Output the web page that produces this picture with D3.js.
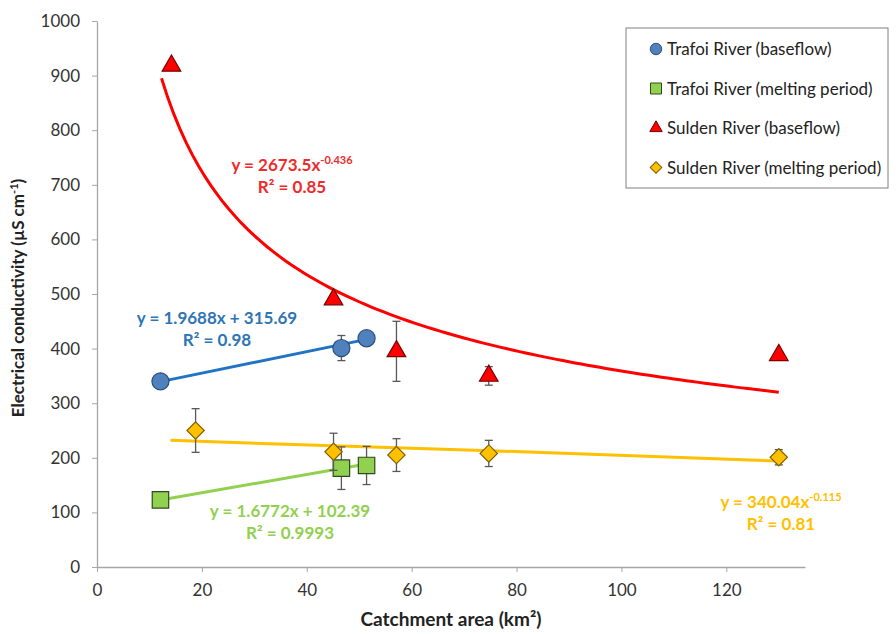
<!DOCTYPE html>
<html>
<head>
<meta charset="utf-8">
<script src="https://cdn.jsdelivr.net/npm/d3@7"></script>
<style>
  body { margin: 0; background: #fff; }
  text { font-family: Lato, "Open Sans", sans-serif; }
</style>
</head>
<body>
<svg width="896" height="634"></svg>
<script>
// EC vs catchment area, Trafoi and Sulden rivers
// values

var xTicks = [0, 20, 40, 60, 80, 100, 120];
var yTicks = [0, 100, 200, 300, 400, 500, 600, 700, 800, 900, 1000];

var trafoiBaseArea = [12.1, 46.6, 51.4];
var trafoiBaseEC = [340, 401, 419];
var trafoiBaseErr = [0, 23, 0];

var trafoiMeltArea = [12.1, 46.6, 51.4];
var trafoiMeltEC = [123, 181, 186];
var trafoiMeltErr = [0, 39, 35];

var suldenBaseArea = [14.2, 45.1, 57.1, 74.7, 130];
var suldenBaseEC = [918, 490, 395, 350, 388];
var suldenBaseErr = [0, 0, 55, 17, 0];

var suldenMeltArea = [18.8, 45.1, 57.1, 74.7, 130];
var suldenMeltEC = [250, 211, 205, 208, 201];
var suldenMeltErr = [40, 34, 30, 24, 14];

// trendlines as printed on the chart: [slope/coef, intercept/exponent, xmin, xmax]
var trafoiBaseFit = [1.9688, 315.69, 12.1, 51.4];
var trafoiMeltFit = [1.6772, 102.39, 12.1, 51.4];
var suldenBaseFit = [2673.5, -0.436, 12.3, 130];
// yellow line as drawn
var suldenMeltLineX = [14, 45, 75, 130];
var suldenMeltLineY = [232, 222, 213, 194];

var legendLabels = ["Trafoi River (baseflow)", "Trafoi River (melting period)",
  "Sulden River (baseflow)", "Sulden River (melting period)"];

var plotLeft = 97, plotRight = 805, plotTop = 21, plotBottom = 567;

var x = d3.scaleLinear().domain([0, 135]).range([plotLeft, plotRight]);
var y = d3.scaleLinear().domain([0, 1000]).range([plotBottom, plotTop]);

var svg = d3.select("svg");
var axisColor = "#a6a6a6";

// axes
var xAxis = svg.append("g").attr("transform", "translate(0," + plotBottom + ")")
  .call(d3.axisBottom(x).tickValues(xTicks).tickSize(5).tickSizeOuter(0).tickPadding(12)
    .tickFormat(d3.format("d")));
var yAxis = svg.append("g").attr("transform", "translate(" + plotLeft + ",0)")
  .call(d3.axisLeft(y).tickValues(yTicks).tickSize(5).tickSizeOuter(0).tickPadding(12)
    .tickFormat(d3.format("d")));
[xAxis, yAxis].forEach(function(a) {
  a.select(".domain").attr("stroke", axisColor).attr("stroke-width", 1.3);
  a.selectAll(".tick line").attr("stroke", axisColor);
  a.selectAll(".tick text").attr("fill", "#333").style("font-size", "17px")
    .style("font-family", "Lato, sans-serif");
});

svg.append("text").attr("x", 451).attr("y", 626).attr("text-anchor", "middle")
  .attr("font-weight", "bold").attr("font-size", 19).attr("fill", "#222")
  .text("Catchment area (km²)");

var yt = svg.append("text").attr("transform", "translate(24,298) rotate(-90)")
  .attr("text-anchor", "middle").attr("font-weight", "bold").attr("font-size", 17).attr("fill", "#222");
yt.append("tspan").text("Electrical conductivity (µS cm");
yt.append("tspan").attr("dy", -6).attr("font-size", 11).text("-1");
yt.append("tspan").attr("dy", 6).text(")");

var line = d3.line().x(function(d) { return x(d[0]); }).y(function(d) { return y(d[1]); });

// trendlines
function linFit(f) {
  return [[f[2], f[0] * f[2] + f[1]], [f[3], f[0] * f[3] + f[1]]];
}
function powFit(f) {
  return d3.range(0, 101).map(function(i) {
    var xv = f[2] + (f[3] - f[2]) * i / 100;
    return [xv, f[0] * Math.pow(xv, f[1])];
  });
}
svg.append("path").attr("d", line(powFit(suldenBaseFit))).attr("fill", "none")
  .attr("stroke", "#ff0000").attr("stroke-width", 3);
svg.append("path").attr("d", line(d3.zip(suldenMeltLineX, suldenMeltLineY))).attr("fill", "none")
  .attr("stroke", "#ffc000").attr("stroke-width", 3);
svg.append("path").attr("d", line(linFit(trafoiBaseFit))).attr("fill", "none")
  .attr("stroke", "#1f74c4").attr("stroke-width", 3);
svg.append("path").attr("d", line(linFit(trafoiMeltFit))).attr("fill", "none")
  .attr("stroke", "#92d050").attr("stroke-width", 3);

// error bars
function errorBars(xs, ys, es) {
  var g = svg.append("g").attr("stroke", "#595959").attr("stroke-width", 1.3);
  xs.forEach(function(xv, i) {
    if (!es[i]) return;
    var cx = x(xv), y1 = y(ys[i] + es[i]), y2 = y(ys[i] - es[i]);
    g.append("line").attr("x1", cx).attr("x2", cx).attr("y1", y1).attr("y2", y2);
    g.append("line").attr("x1", cx - 4).attr("x2", cx + 4).attr("y1", y1).attr("y2", y1);
    g.append("line").attr("x1", cx - 4).attr("x2", cx + 4).attr("y1", y2).attr("y2", y2);
  });
}

// rot: diamonds are squares turned 45 degrees, like Excel's
var series = [
  { xs: trafoiBaseArea, ys: trafoiBaseEC, es: trafoiBaseErr, shape: d3.symbolCircle, size: 230, rot: 0, fill: "#4f81bd", stroke: "#2c4f7c" },
  { xs: trafoiMeltArea, ys: trafoiMeltEC, es: trafoiMeltErr, shape: d3.symbolSquare, size: 270, rot: 0, fill: "#92d050", stroke: "#2e4a1c" },
  { xs: suldenBaseArea, ys: suldenBaseEC, es: suldenBaseErr, shape: d3.symbolTriangle, size: 150, rot: 0, fill: "#ff0000", stroke: "#7a0000" },
  { xs: suldenMeltArea, ys: suldenMeltEC, es: suldenMeltErr, shape: d3.symbolSquare, size: 150, rot: 45, fill: "#ffc000", stroke: "#7f6000" }
];

series.forEach(function(s) {
  errorBars(s.xs, s.ys, s.es);
  svg.append("g").selectAll("path").data(d3.zip(s.xs, s.ys)).join("path")
    .attr("d", d3.symbol().type(s.shape).size(s.size))
    .attr("transform", function(d) { return "translate(" + x(d[0]) + "," + y(d[1]) + ") rotate(" + s.rot + ")"; })
    .attr("fill", s.fill).attr("stroke", s.stroke).attr("stroke-width", 1.2);
});

// equation labels
function eqLabel(cx, by, color, main, sup, r2) {
  var t = svg.append("text").attr("x", cx).attr("y", by).attr("text-anchor", "middle")
    .attr("font-weight", "bold").attr("font-size", 17).attr("fill", color);
  t.append("tspan").text(main);
  if (sup) t.append("tspan").attr("dy", -7).attr("font-size", 11).text(sup);
  svg.append("text").attr("x", cx).attr("y", by + 22).attr("text-anchor", "middle")
    .attr("font-weight", "bold").attr("font-size", 17).attr("fill", color).text(r2);
}
eqLabel(292, 171, "#ee2a2a", "y = 2673.5x", "-0.436", "R² = 0.85");
eqLabel(217, 324, "#2e75b6", "y = 1.9688x + 315.69", null, "R² = 0.98");
eqLabel(290, 517, "#92d050", "y = 1.6772x + 102.39", null, "R² = 0.9993");
eqLabel(781, 508, "#ffc000", "y = 340.04x", "-0.115", "R² = 0.81");

// legend
var lg = svg.append("g");
lg.append("rect").attr("x", 626).attr("y", 28).attr("width", 262).attr("height", 160)
  .attr("fill", "#fff").attr("stroke", "#808080").attr("stroke-width", 1);
series.forEach(function(s, i) {
  var ly = 49 + i * 39.5;
  lg.append("path").attr("d", d3.symbol().type(s.shape).size(s.size * 0.45))
    .attr("transform", "translate(656," + ly + ") rotate(" + s.rot + ")")
    .attr("fill", s.fill).attr("stroke", s.stroke).attr("stroke-width", 1);
  lg.append("text").attr("x", 667).attr("y", ly + 6).attr("font-size", 17).attr("fill", "#222")
    .text(legendLabels[i]);
});
</script>
</body>
</html>
